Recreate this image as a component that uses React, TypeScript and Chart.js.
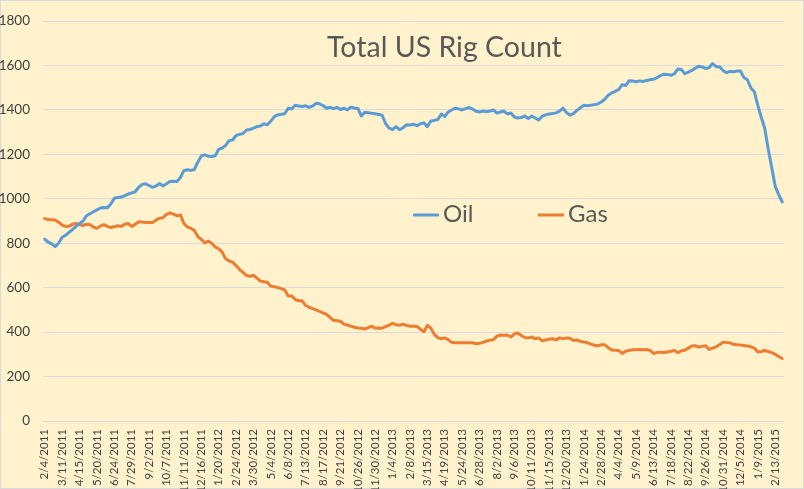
import React, { useEffect, useRef } from 'react';
import { Chart, registerables } from 'chart.js';

Chart.register(...registerables);

const chartTitle = 'Total US Rig Count';
const seriesNames = ['Oil', 'Gas'];
const startYear = 2011;
const startMonth = 2; // February
const startDay = 4;
const weekCount = 213;
const tickEvery = 5;
const yMin = 0;
const yMax = 1800;
const yStep = 200;

const oil = [
  818, 805, 797, 785, 800, 827, 836, 849, 862, 876,
  888, 900, 924, 933, 942, 950, 959, 961, 960, 977,
  1003, 1006, 1008, 1014, 1021, 1027, 1032, 1052, 1065, 1068,
  1060, 1052, 1058, 1069, 1058, 1068, 1078, 1079, 1078, 1096,
  1127, 1131, 1128, 1132, 1165, 1193, 1198, 1192, 1190, 1194,
  1223, 1228, 1241, 1262, 1265, 1285, 1290, 1294, 1310, 1312,
  1318, 1325, 1328, 1338, 1333, 1350, 1370, 1378, 1381, 1383,
  1408, 1404, 1421, 1418, 1416, 1419, 1412, 1417, 1430, 1428,
  1420, 1408, 1412, 1406, 1412, 1402, 1408, 1400, 1413, 1409,
  1407, 1373, 1390, 1388, 1385, 1383, 1380, 1376, 1338, 1318,
  1312, 1325, 1311, 1320, 1333, 1332, 1336, 1329, 1338, 1342,
  1325, 1350, 1353, 1357, 1382, 1370, 1391, 1400, 1408, 1405,
  1400, 1406, 1411, 1404, 1394, 1391, 1395, 1392, 1395, 1400,
  1386, 1391, 1395, 1382, 1386, 1368, 1364, 1366, 1373, 1362,
  1373, 1364, 1355, 1372, 1378, 1382, 1384, 1387, 1395, 1408,
  1388, 1377, 1384, 1398, 1410, 1421, 1419, 1421, 1424, 1427,
  1436, 1448, 1466, 1477, 1484, 1492, 1514, 1510, 1532, 1530,
  1527, 1531, 1528, 1533, 1536, 1538, 1545, 1555, 1561, 1560,
  1556, 1563, 1584, 1583, 1563, 1570, 1578, 1588, 1597, 1594,
  1587, 1590, 1609, 1595, 1595, 1578, 1568, 1574, 1572, 1575,
  1575, 1546, 1536, 1499, 1482, 1421, 1366, 1317, 1223, 1140,
  1056, 1019, 986,
];

const gas = [
  911, 907, 906, 905, 895, 882, 876, 877, 886, 889,
  884, 880, 886, 884, 873, 867, 878, 884, 876, 871,
  874, 879, 876, 886, 889, 876, 885, 897, 896, 893,
  894, 893, 905, 912, 915, 930, 937, 931, 924, 928,
  890, 873, 868, 858, 830, 818, 801, 810, 800, 783,
  776, 760, 730, 720, 715, 700, 682, 669, 655, 651,
  656, 643, 630, 627, 625, 607, 604, 601, 596, 590,
  563, 563, 547, 541, 541, 520, 512, 506, 500, 493,
  487, 480, 467, 453, 451, 449, 436, 432, 427, 422,
  419, 418, 414, 420, 427, 418, 419, 418, 425, 431,
  440, 433, 431, 436, 430, 427, 428, 425, 414, 401,
  431, 418, 390, 375, 370, 374, 366, 354, 352, 352,
  352, 352, 352, 352, 348, 350, 354, 360, 364, 366,
  382, 387, 386, 387, 378, 392, 396, 385, 376, 374,
  378, 370, 374, 361, 365, 368, 370, 365, 374, 370,
  374, 372, 362, 365, 358, 356, 352, 346, 341, 339,
  343, 343, 330, 320, 318, 317, 304, 314, 318, 321,
  321, 322, 321, 322, 318, 304, 308, 310, 308, 311,
  314, 317, 308, 316, 318, 328, 338, 339, 333, 336,
  339, 322, 328, 334, 343, 355, 353, 352, 345, 343,
  342, 340, 338, 334, 328, 311, 313, 317, 313, 308,
  300, 290, 281,
];

function weeklyLabels(): string[] {
  const out: string[] = [];
  for (let i = 0; i < weekCount; i++) {
    const d = new Date(startYear, startMonth - 1, startDay + i * 7);
    out.push(`${d.getMonth() + 1}/${d.getDate()}/${d.getFullYear()}`);
  }
  return out;
}

const categories = weeklyLabels();

const OIL_COLOR = '#5B9BD5';
const GAS_COLOR = '#ED7D31';
const TEXT_COLOR = '#595959';
const TICK_COLOR = '#404040';
const GRID_COLOR = '#D9D9D9';
const BG_COLOR = '#FFF2CC';

const overlayPlugin = {
  id: 'overlay',
  beforeDraw(chart: any) {
    const { ctx, width, height } = chart;
    ctx.save();
    ctx.fillStyle = BG_COLOR;
    ctx.fillRect(0, 0, width, height);
    ctx.strokeStyle = GRID_COLOR;
    ctx.lineWidth = 1;
    ctx.strokeRect(0.5, 0.5, width - 1, height - 1);
    ctx.restore();
  },
  afterDraw(chart: any) {
    const { ctx } = chart;
    ctx.save();
    let size = 28;
    ctx.font = `400 ${size}px Lato`;
    const w = ctx.measureText(chartTitle).width;
    size = size * (235 / w);
    ctx.font = `400 ${size}px Lato`;
    ctx.fillStyle = TEXT_COLOR;
    ctx.textBaseline = 'alphabetic';
    ctx.textAlign = 'left';
    ctx.fillText(chartTitle, 327, 57);

    const items = [
      { name: seriesNames[0], color: OIL_COLOR, x: 413 },
      { name: seriesNames[1], color: GAS_COLOR, x: 538 },
    ];
    ctx.font = `400 24px Lato`;
    items.forEach((it) => {
      ctx.strokeStyle = it.color;
      ctx.lineWidth = 3;
      ctx.lineCap = 'butt';
      ctx.beginPath();
      ctx.moveTo(it.x, 215);
      ctx.lineTo(it.x + 26, 215);
      ctx.stroke();
      ctx.fillStyle = TEXT_COLOR;
      ctx.fillText(it.name, it.x + 30, 222);
    });
    ctx.restore();
  },
};

export default function App() {
  const canvasRef = useRef<HTMLCanvasElement | null>(null);

  useEffect(() => {
    document.body.style.margin = '0';
    const canvas = canvasRef.current;
    if (!canvas) return;
    const chart = new Chart(canvas, {
      type: 'line',
      data: {
        labels: categories,
        datasets: [
          {
            label: seriesNames[0],
            data: oil,
            borderColor: OIL_COLOR,
            backgroundColor: OIL_COLOR,
            borderWidth: 3,
            pointRadius: 0,
            pointHoverRadius: 0,
            tension: 0,
            borderJoinStyle: 'round',
            borderCapStyle: 'round',
          },
          {
            label: seriesNames[1],
            data: gas,
            borderColor: GAS_COLOR,
            backgroundColor: GAS_COLOR,
            borderWidth: 3,
            pointRadius: 0,
            pointHoverRadius: 0,
            tension: 0,
            borderJoinStyle: 'round',
            borderCapStyle: 'round',
          },
        ],
      },
      options: {
        responsive: false,
        animation: false,
        events: [],
        layout: { padding: { left: 0, right: 7, top: 12, bottom: 0 } },
        plugins: {
          legend: { display: false },
          title: { display: false },
          tooltip: { enabled: false },
        },
        scales: {
          x: {
            offset: true,
            grid: { display: false, drawTicks: false },
            border: { display: true, color: GRID_COLOR, width: 1 },
            ticks: {
              autoSkip: false,
              minRotation: 90,
              maxRotation: 90,
              padding: 8,
              color: TICK_COLOR,
              font: { family: 'Lato', size: 11.5 },
              callback: (_v: any, index: number) =>
                index % tickEvery === 0 ? categories[index] : '',
            },
            afterFit: (scale: any) => {
              scale.height = 68;
            },
          },
          y: {
            min: yMin,
            max: yMax,
            grid: { color: GRID_COLOR, lineWidth: 1, drawTicks: false },
            border: { display: false },
            ticks: {
              stepSize: yStep,
              padding: 13,
              color: TICK_COLOR,
              font: { family: 'Lato', size: 13.5 },
              callback: (v: any) => String(v),
            },
            afterFit: (scale: any) => {
              scale.width = 43;
            },
          },
        },
      },
      plugins: [overlayPlugin],
    });
    return () => chart.destroy();
  }, []);

  return (
    <div style={{ width: 804, height: 489, position: 'relative' }}>
      <canvas ref={canvasRef} width={804} height={489} style={{ display: 'block', width: 804, height: 489 }} />
    </div>
  );
}
